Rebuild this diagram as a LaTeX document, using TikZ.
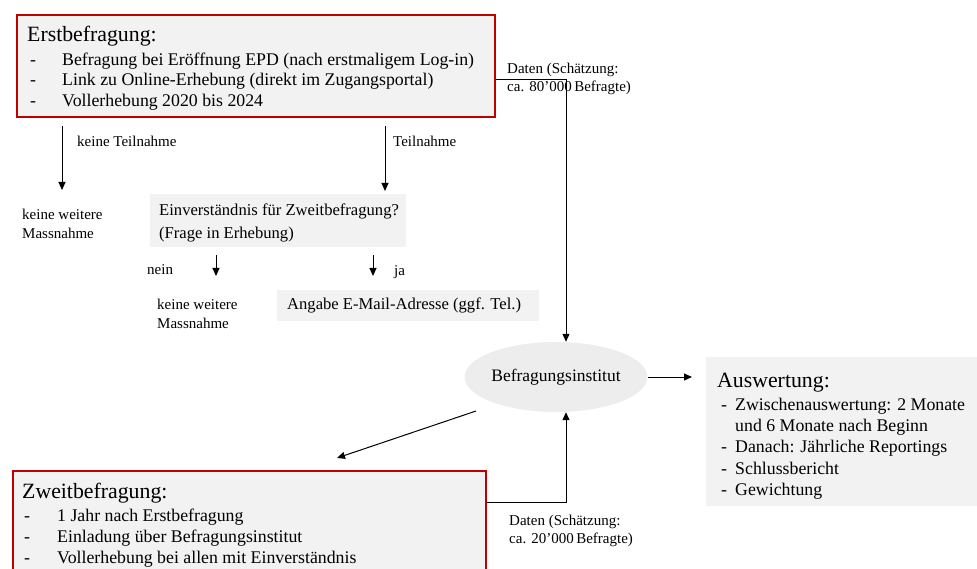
\documentclass[tikz,border=0pt]{standalone}
\usepackage{fontspec}
\setmainfont{Liberation Serif}
\usetikzlibrary{arrows.meta,shapes.geometric}
\definecolor{boxred}{HTML}{C00000}
\definecolor{boxgray}{HTML}{F2F2F2}
\definecolor{ellgray}{HTML}{EDEDED}
\tikzset{
  redbox/.style={draw=boxred,line width=2pt,fill=boxgray,inner sep=0pt,anchor=north west},
  graybox/.style={fill=boxgray,inner sep=0pt,anchor=north west},
  title/.style={anchor=west,inner sep=0pt,yshift=-1.5pt,font=\fontsize{21.8}{22}\selectfont,execute at begin node=\strut},
  body/.style={anchor=west,inner sep=0pt,yshift=-2pt,font=\fontsize{17.8}{18}\selectfont,execute at begin node=\strut},
  midbody/.style={anchor=west,inner sep=0pt,yshift=-1pt,font=\fontsize{16.6}{17}\selectfont,execute at begin node=\strut},
  small/.style={anchor=west,inner sep=0pt,align=left,font=\fontsize{15}{18.5}\selectfont},
  conn/.style={line width=1pt,-{Triangle[length=8pt,width=7pt]}},
}
\begin{document}
\begin{tikzpicture}[x=1pt,y=-1pt]
\useasboundingbox (0,0) rectangle (977,569);
\clip (0,0) rectangle (977,569);
% Erstbefragung
\node[redbox,minimum width=478,minimum height=102] (erst) at (16,14) {};
\node[title] (erstT) at (27,36) {Erstbefragung:};
\node[body] (e1d) at (30,60) {-};
\node[body] (e1) at (62,60) {Befragung bei Eröffnung EPD (nach erstmaligem Log-in)};
\node[body] (e2d) at (30,80) {-};
\node[body] (e2) at (62,80) {Link zu Online-Erhebung (direkt im Zugangsportal)};
\node[body] (e3d) at (30,101) {-};
\node[body] (e3) at (62,101) {Vollerhebung 2020 bis 2024};
% Daten 80'000
\node[small] (d1) at (507,79) {Daten (Schätzung:\\ca. 80’000\,Befragte)};
% left branch
\coordinate (kt1) at (62,126);
\coordinate (kt2) at (62,190);
\draw[conn] (kt1) -- (kt2);
\node[small] (ktl) at (77,141) {keine Teilnahme};
\node[small] (kw1) at (22,224) {keine weitere\\Massnahme};
% Teilnahme
\coordinate (t1) at (385,126);
\coordinate (t2) at (385,191);
\draw[conn] (t1) -- (t2);
\node[small] (tl) at (393,141) {Teilnahme};
% Einverständnis
\node[graybox,minimum width=256,minimum height=53] (einv) at (150,194) {};
\node[midbody] (einv1) at (159,211) {Einverständnis für Zweitbefragung?};
\node[midbody] (einv2) at (159,234) {(Frage in Erhebung)};
% nein / ja
\coordinate (n1) at (216,255);
\coordinate (n2) at (216,276);
\draw[conn] (n1) -- (n2);
\node[small] (nl) at (147,270) {nein};
\coordinate (j1) at (373,255);
\coordinate (j2) at (373,276);
\draw[conn] (j1) -- (j2);
\node[small] (jl) at (394,272) {ja};
\node[small] (kw2) at (157,314) {keine weitere\\Massnahme};
% Angabe
\node[graybox,minimum width=262,minimum height=31] (ang) at (277,290) {};
\node[midbody] (angT) at (287,305) {Angabe E-Mail-Adresse (ggf. Tel.)};
% Befragungsinstitut
\node[ellipse,fill=ellgray,minimum width=178,minimum height=70,inner sep=0pt,font=\fontsize{17.5}{18}\selectfont] (inst) at (556,377) {Befragungsinstitut};
% Auswertung
\node[graybox,minimum width=271,minimum height=149] (ausw) at (706,357) {};
\node[title] (auswT) at (717,382) {Auswertung:};
\node[body] (a1d) at (721,405) {-};
\node[body] (a1) at (735,405) {Zwischenauswertung: 2 Monate};
\node[body] (a1b) at (735,426) {und 6 Monate nach Beginn};
\node[body] (a2d) at (721,447) {-};
\node[body] (a2) at (735,447) {Danach: Jährliche Reportings};
\node[body] (a3d) at (721,469) {-};
\node[body] (a3) at (735,469) {Schlussbericht};
\node[body] (a4d) at (721,490) {-};
\node[body] (a4) at (735,490) {Gewichtung};
% Zweitbefragung
\node[redbox,minimum width=473,minimum height=130] (zweit) at (12,470) {};
\node[title] (zweitT) at (22,493) {Zweitbefragung:};
\node[body] (z1d) at (24,516) {-};
\node[body] (z1) at (57,516) {1 Jahr nach Erstbefragung};
\node[body] (z2d) at (24,537) {-};
\node[body] (z2) at (57,537) {Einladung über Befragungsinstitut};
\node[body] (z3d) at (24,558) {-};
\node[body] (z3) at (57,558) {Vollerhebung bei allen mit Einverständnis};
\node[small] (d2) at (509,531) {Daten (Schätzung:\\ca. 20’000\,Befragte)};
% connectors
\coordinate (c1) at (566,80);
\draw[conn] (erst.east |- c1) -- (c1) -- (c1 |- inst.north);
\coordinate (ie) at (648,377);
\coordinate (ae) at (692,377);
\draw[conn] (ie) -- (ae);
\coordinate (c2) at (566,502);
\draw[conn] (zweit.east |- c2) -- (c2) -- (c2 |- inst.south);
\coordinate (ds) at (476,411);
\coordinate (dl) at (337,458);
\draw[conn] (ds) -- (dl);
\end{tikzpicture}
\end{document}
